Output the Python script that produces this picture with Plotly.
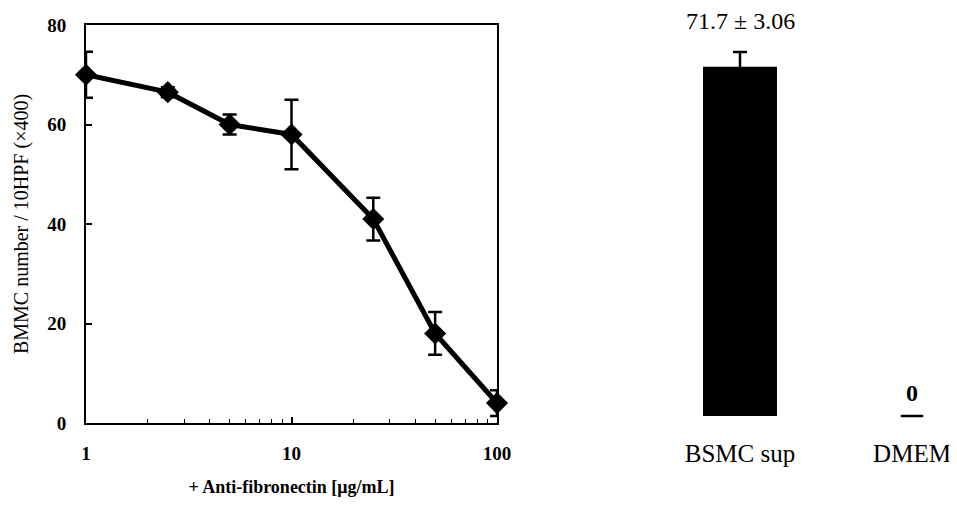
import plotly.graph_objects as go

# Left panel: dose response
conc = [1, 2.5, 5, 10, 25, 50, 100]
bmmc = [70.0, 66.5, 60.0, 58.0, 41.0, 18.0, 4.0]
bmmc_err = [4.6, 1.0, 2.0, 7.0, 4.3, 4.3, 2.6]
x_ticks = [1, 10, 100]
y_ticks = [0, 20, 40, 60, 80]

# Right panel: controls
groups = ["BSMC sup", "DMEM"]
group_vals = [71.7, 0]
group_err = [3.06, 0]
group_labels = ["71.7 ± 3.06", "0"]

# the page body has an 8px margin, so the figure is a little smaller
OFF = 8
W, H = 957 - OFF, 506 - OFF
FONT = "Liberation Serif"

def px_x(a):
    return (a - OFF) / W

def px_y(a):
    return 1 - (a - OFF) / H

fig = go.Figure()

fig.add_trace(go.Scatter(
    x=conc, y=bmmc, mode="lines+markers",
    line=dict(color="black", width=5),
    marker=dict(symbol="diamond", size=17, color="black"),
    error_y=dict(type="data", array=bmmc_err, visible=True,
                 color="black", thickness=2.5, width=7),
    xaxis="x", yaxis="y", showlegend=False, cliponaxis=False,
))

fig.add_trace(go.Bar(
    x=groups[:1], y=group_vals[:1], width=0.43,
    marker=dict(color="black", line=dict(width=0)),
    error_y=dict(type="data", array=group_err[:1], visible=True,
                 color="black", thickness=2.5, width=7),
    xaxis="x2", yaxis="y2", showlegend=False,
))

fig.add_trace(go.Scatter(
    x=groups[1:], y=group_vals[1:], mode="markers",
    marker=dict(symbol="line-ew", size=16, line=dict(color="black", width=2.5)),
    xaxis="x2", yaxis="y2", showlegend=False, cliponaxis=False,
))

annotations = []
for g, v, e, t in zip(groups, group_vals, group_err, group_labels):
    annotations.append(dict(
        x=g, y=v + e, xref="x2", yref="y2", text=t, showarrow=False,
        yanchor="bottom", yshift=16 if v > 0 else 8,
        font=dict(family=FONT, size=24, color="black",
                  weight="normal" if v > 0 else "bold"),
    ))

fig.update_layout(
    width=W, height=H,
    margin=dict(l=0, r=0, t=0, b=0),
    paper_bgcolor="white", plot_bgcolor="white",
    font=dict(family=FONT, color="black"),
    annotations=annotations,
    xaxis=dict(
        type="log", domain=[px_x(86), px_x(497)], range=[0, 2],
        tickvals=x_ticks, ticktext=[str(v) for v in x_ticks],
        ticks="inside", ticklen=6, tickwidth=1.5, tickcolor="black",
        minor=dict(ticks="inside", ticklen=4, tickwidth=1, tickcolor="black",
                   tickvals=[2, 3, 4, 5, 6, 7, 8, 9, 20, 30, 40, 50, 60, 70, 80, 90]),
        showline=True, linecolor="black", linewidth=2, mirror=True,
        showgrid=False, zeroline=False, automargin=False,
        ticklabelstandoff=12,
        tickfont=dict(family=FONT, size=19, weight="bold"),
        title=dict(text="+ Anti-fibronectin [μg/mL]", standoff=18,
                   font=dict(family=FONT, size=18, weight="bold")),
        anchor="y",
    ),
    yaxis=dict(
        domain=[px_y(423), px_y(25)], range=[0, 80],
        tickvals=y_ticks,
        ticks="inside", ticklen=6, tickwidth=1.5, tickcolor="black",
        showline=True, linecolor="black", linewidth=2, mirror=True,
        showgrid=False, zeroline=False, automargin=False,
        ticklabelstandoff=14,
        tickfont=dict(family=FONT, size=19, weight="bold"),
        title=dict(text="BMMC number / 10HPF (×400)", standoff=13,
                   font=dict(family=FONT, size=20)),
        anchor="x",
    ),
    xaxis2=dict(
        domain=[px_x(654), 1], range=[-0.5, -0.5 + 303 / 172],
        showline=False, showgrid=False, zeroline=False, ticks="",
        automargin=False, ticklabelstandoff=20,
        tickfont=dict(family=FONT, size=25), anchor="y2",
    ),
    yaxis2=dict(
        domain=[px_y(416), px_y(416 - 80 * 4.87)], range=[0, 80],
        visible=False, anchor="x2", automargin=False,
    ),
)

fig.write_html("out.html")
